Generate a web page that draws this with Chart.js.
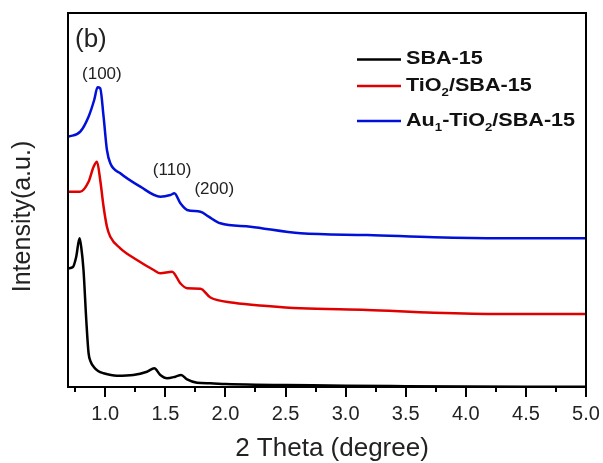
<!DOCTYPE html>
<html>
<head>
<meta charset="utf-8">
<script src="https://cdn.jsdelivr.net/npm/chart.js"></script>
<style>
  html, body { margin: 0; padding: 0; background: #fff; }
</style>
</head>
<body>
<canvas id="Chart" width="603" height="463"></canvas>
<script>
// SBA-15
var sbaX = [0.694, 0.731, 0.758, 0.786, 0.80, 0.819, 0.842, 0.861, 0.880, 0.903, 0.94, 0.986, 1.097, 1.233, 1.347, 1.408, 1.458, 1.514, 1.583, 1.631, 1.681, 1.764, 1.875, 2.0, 2.25, 2.5, 3.0, 3.5, 4.0, 4.5, 5.0];
var sbaY = [118.7, 120, 130, 148.7, 140, 117, 67, 34, 25, 20.3, 16, 13.7, 11.3, 12, 15.3, 18.7, 12, 8.7, 10.3, 12, 7.7, 4.3, 3.7, 3, 2.3, 2, 1.2, 0.8, 0.5, 0.3, 0.2];

// TiO2/SBA-15
var tioX = [0.694, 0.79, 0.861, 0.903, 0.931, 0.958, 0.986, 1.014, 1.042, 1.125, 1.264, 1.403, 1.458, 1.556, 1.625, 1.681, 1.792, 1.875, 2.069, 2.347, 2.625, 3.181, 3.736, 4.292, 5.0];
var tioY = [195.3, 195.3, 205.3, 220.3, 225.3, 207, 180.3, 160.3, 150.3, 138.7, 127, 117, 113.7, 115.3, 103.7, 98.7, 98.3, 89.5, 84.3, 81, 78.7, 77, 74.3, 73, 73];

// Au1-TiO2/SBA-15
var auX = [0.694, 0.792, 0.861, 0.908, 0.936, 0.958, 0.986, 1.014, 1.042, 1.125, 1.292, 1.458, 1.542, 1.575, 1.625, 1.681, 1.792, 1.861, 1.958, 2.208, 2.625, 3.181, 3.736, 4.292, 5.0];
var auY = [250.3, 255.3, 270.3, 287, 299.7, 298.7, 270.3, 237, 223.7, 213.7, 200.3, 190.3, 192, 193.7, 183.7, 177, 175.3, 170.3, 163.7, 160.3, 153.7, 152, 149.7, 148.7, 148.7];

var majorTicks = [1.0, 1.5, 2.0, 2.5, 3.0, 3.5, 4.0, 4.5, 5.0];
var minorTicks = [0.75, 1.25, 1.75, 2.25, 2.75, 3.25, 3.75, 4.25, 4.75];

// peak labels: text, x, y
var peakText = ['(100)', '(110)', '(200)'];
var peakX = [0.972, 1.556, 1.907];
var peakY = [313, 216.5, 198];

function toPoints(xs, ys) {
  return xs.map(function (x, i) { return { x: x, y: ys[i] }; });
}

var FONT = '"Liberation Sans", Arial, sans-serif';

var framePlugin = {
  id: 'frame',
  afterDatasetsDraw: function (chart) {
    var ctx = chart.ctx;
    var a = chart.chartArea;
    var xs = chart.scales.x;
    ctx.save();
    ctx.strokeStyle = '#000';
    ctx.lineWidth = 2;
    ctx.strokeRect(a.left, a.top, a.right - a.left, a.bottom - a.top);

    // tick marks
    ctx.beginPath();
    majorTicks.forEach(function (v) {
      var px = Math.round(xs.getPixelForValue(v));
      ctx.moveTo(px, a.bottom);
      ctx.lineTo(px, a.bottom + 10);
    });
    minorTicks.forEach(function (v) {
      var px = Math.round(xs.getPixelForValue(v));
      ctx.moveTo(px, a.bottom);
      ctx.lineTo(px, a.bottom + 5);
    });
    ctx.stroke();

    // peak labels
    ctx.fillStyle = '#222';
    ctx.font = '17px ' + FONT;
    ctx.textAlign = 'center';
    ctx.textBaseline = 'middle';
    peakText.forEach(function (t, i) {
      ctx.fillText(t, xs.getPixelForValue(peakX[i]), chart.scales.y.getPixelForValue(peakY[i]));
    });

    // panel letter
    ctx.font = '26px ' + FONT;
    ctx.textAlign = 'left';
    ctx.fillText('(b)', 75, 40);

    // axis titles
    ctx.font = '26px ' + FONT;
    ctx.textAlign = 'center';
    ctx.fillText('2 Theta (degree)', 332, 449);
    ctx.save();
    ctx.translate(23, 216.5);
    ctx.rotate(-Math.PI / 2);
    ctx.font = '25px ' + FONT;
    ctx.fillText('Intensity(a.u.)', 0, 0);
    ctx.restore();

    // legend
    var items = [
      { color: '#000000', y: 59.5, parts: [['SBA-15', 0]] },
      { color: '#e00000', y: 86, parts: [['TiO', 0], ['2', 1], ['/SBA-15', 0]] },
      { color: '#0010d8', y: 121, parts: [['Au', 0], ['1', 1], ['-TiO', 0], ['2', 1], ['/SBA-15', 0]] }
    ];
    items.forEach(function (it) {
      ctx.strokeStyle = it.color;
      ctx.lineWidth = 2.5;
      ctx.beginPath();
      ctx.moveTo(357, it.y);
      ctx.lineTo(401, it.y);
      ctx.stroke();
      ctx.save();
      ctx.translate(406, it.y);
      ctx.scale(1.2, 1);
      ctx.fillStyle = '#111';
      ctx.textAlign = 'left';
      var cx = 0;
      it.parts.forEach(function (p) {
        if (p[1]) {
          ctx.font = 'bold 11px ' + FONT;
          ctx.fillText(p[0], cx, 7);
        } else {
          ctx.font = 'bold 18px ' + FONT;
          ctx.fillText(p[0], cx, 0);
        }
        cx += ctx.measureText(p[0]).width;
      });
      ctx.restore();
    });
    ctx.restore();
  }
};

var ctx = document.getElementById('Chart').getContext('2d');
var myChart = new Chart(ctx, {
  type: 'line',
  data: {
    datasets: [{
      label: 'SBA-15',
      data: toPoints(sbaX, sbaY),
      borderColor: '#000000',
      borderWidth: 2.5
    }, {
      label: 'TiO2/SBA-15',
      data: toPoints(tioX, tioY),
      borderColor: '#e00000',
      borderWidth: 2.5
    }, {
      label: 'Au1-TiO2/SBA-15',
      data: toPoints(auX, auY),
      borderColor: '#0010d8',
      borderWidth: 2.5
    }]
  },
  options: {
    responsive: false,
    animation: false,
    layout: { padding: { top: 13, right: 17, left: 0, bottom: 0 } },
    elements: {
      point: { radius: 0 },
      line: { cubicInterpolationMode: 'monotone', fill: false }
    },
    plugins: {
      legend: { display: false },
      tooltip: { enabled: false }
    },
    scales: {
      x: {
        type: 'linear',
        position: 'bottom',
        min: 0.69,
        max: 5.0,
        afterBuildTicks: function (scale) {
          scale.ticks = majorTicks.map(function (v) { return { value: v }; });
        },
        afterFit: function (scale) {
          scale.height = 76;
          scale.paddingLeft = 0;
          scale.paddingRight = 0;
        },
        grid: { display: false, drawTicks: false },
        border: { display: false },
        ticks: {
          color: '#222',
          padding: 15,
          maxRotation: 0,
          autoSkip: false,
          font: { family: FONT, size: 20 },
          callback: function (v) { return Number(v).toFixed(1); }
        }
      },
      y: {
        min: 0,
        max: 374,
        afterFit: function (scale) { scale.width = 68; },
        grid: { display: false, drawTicks: false },
        border: { display: false },
        ticks: { display: false }
      }
    }
  },
  plugins: [framePlugin]
});
</script>
</body>
</html>
